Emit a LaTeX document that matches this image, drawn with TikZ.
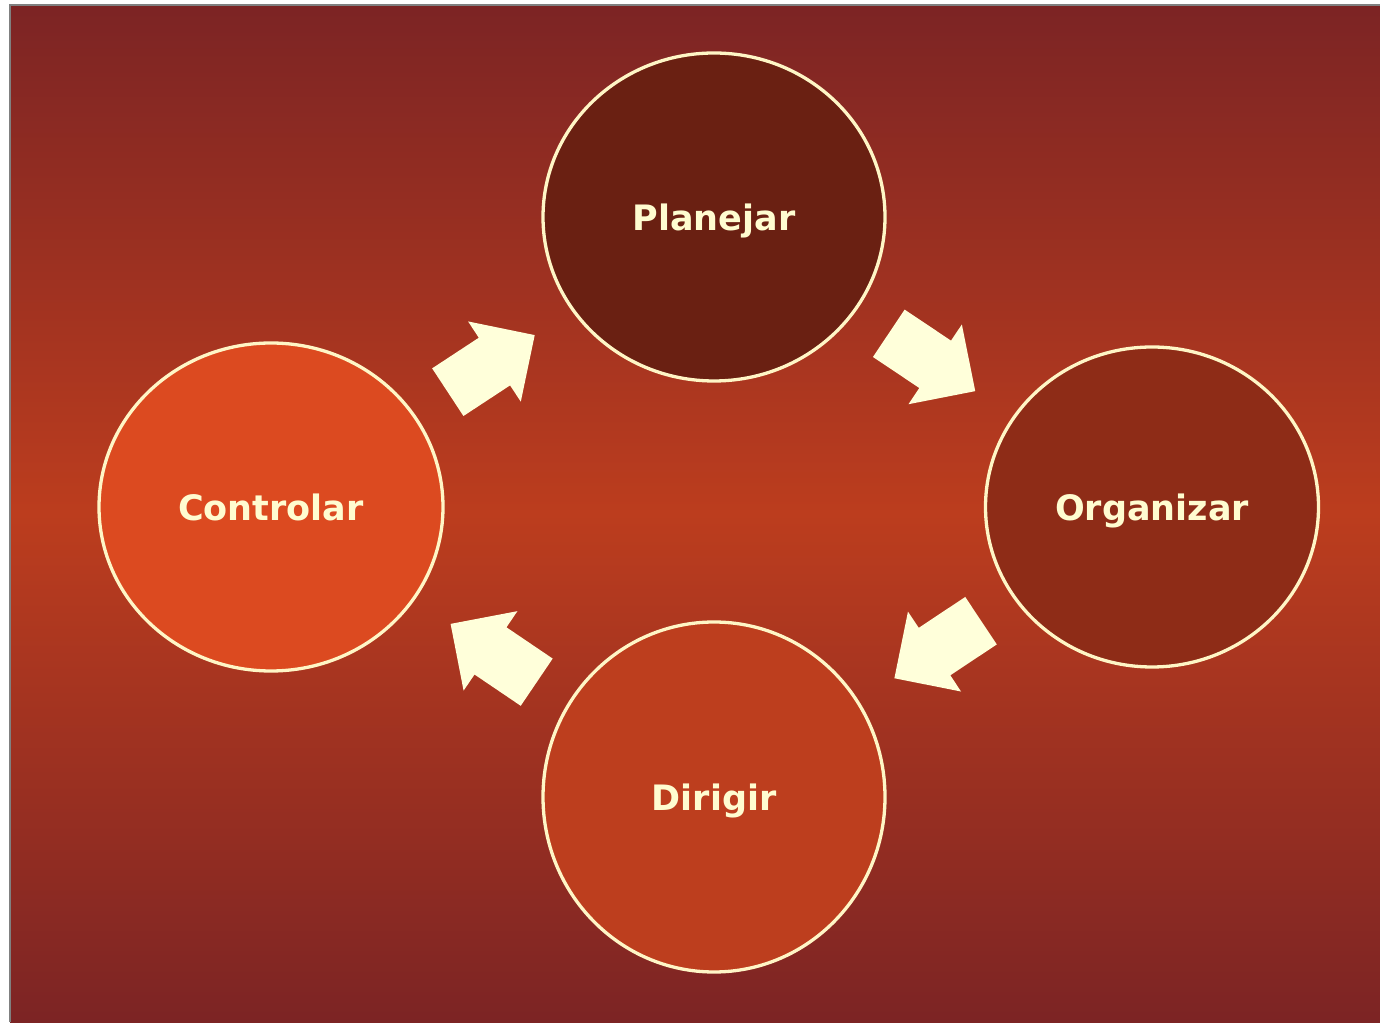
\documentclass[tikz,border=0pt]{standalone}
\usepackage{fontspec}
\setmainfont{DejaVu Sans}
\usetikzlibrary{shapes.geometric}
\definecolor{bgedge}{HTML}{7C2424}
\definecolor{bgmid}{HTML}{BC3D1E}
\definecolor{cream}{HTML}{FFF6C6}
\definecolor{txtcream}{HTML}{FFFCD0}
\definecolor{arrowcream}{HTML}{FFFFDA}
\definecolor{fplan}{HTML}{6A2012}
\definecolor{forg}{HTML}{8E2C17}
\definecolor{fdir}{HTML}{BD3E1E}
\definecolor{fctl}{HTML}{DC4A20}
\tikzset{
  stage/.style={ellipse, draw=cream, line width=3.3pt, inner sep=0pt,
    text=txtcream, font=\fontsize{35}{42}\selectfont\bfseries,
    text height=26.6pt, text depth=0pt},
  blockarrow/.style={fill=arrowcream, draw=none}
}
\newcommand{\blockarr}[3]{%
  \begin{scope}[shift={(#1,#2)}, rotate=#3]
    \path[blockarrow] (0,28.5) -- (55.8,28.5) -- (55.8,48) -- (104,0)
      -- (55.8,-48) -- (55.8,-28.5) -- (0,-28.5) -- cycle;
  \end{scope}}
\begin{document}
\begin{tikzpicture}[x=1pt,y=1pt]
  \useasboundingbox (0,0) rectangle (1380,1022);
  \fill[white] (0,0) rectangle (1380,1022);
  \shade[top color=bgedge, bottom color=bgedge, middle color=bgmid]
    (10,0) rectangle (1380,1017);
  \draw[gray, line width=1.5pt] (10,0) -- (10,1017) -- (1380,1017);

  \node[stage, fill=fplan, minimum width=342pt, minimum height=328pt] (plan) at (714,805) {Planejar};
  \node[stage, fill=forg, minimum width=333pt, minimum height=320pt] (org) at (1152,515) {Organizar};
  \node[stage, fill=fdir, minimum width=342pt, minimum height=350pt] (dir) at (714,225) {Dirigir};
  \node[stage, fill=fctl, minimum width=344pt, minimum height=328pt] (ctl) at (271,515) {Controlar};

  \blockarr{447.8}{629.8}{33.3}
  \blockarr{888.8}{688.7}{-33.8}
  \blockarr{981}{401.3}{213.6}
  \blockarr{536.7}{339.8}{145.9}
\end{tikzpicture}
\end{document}
